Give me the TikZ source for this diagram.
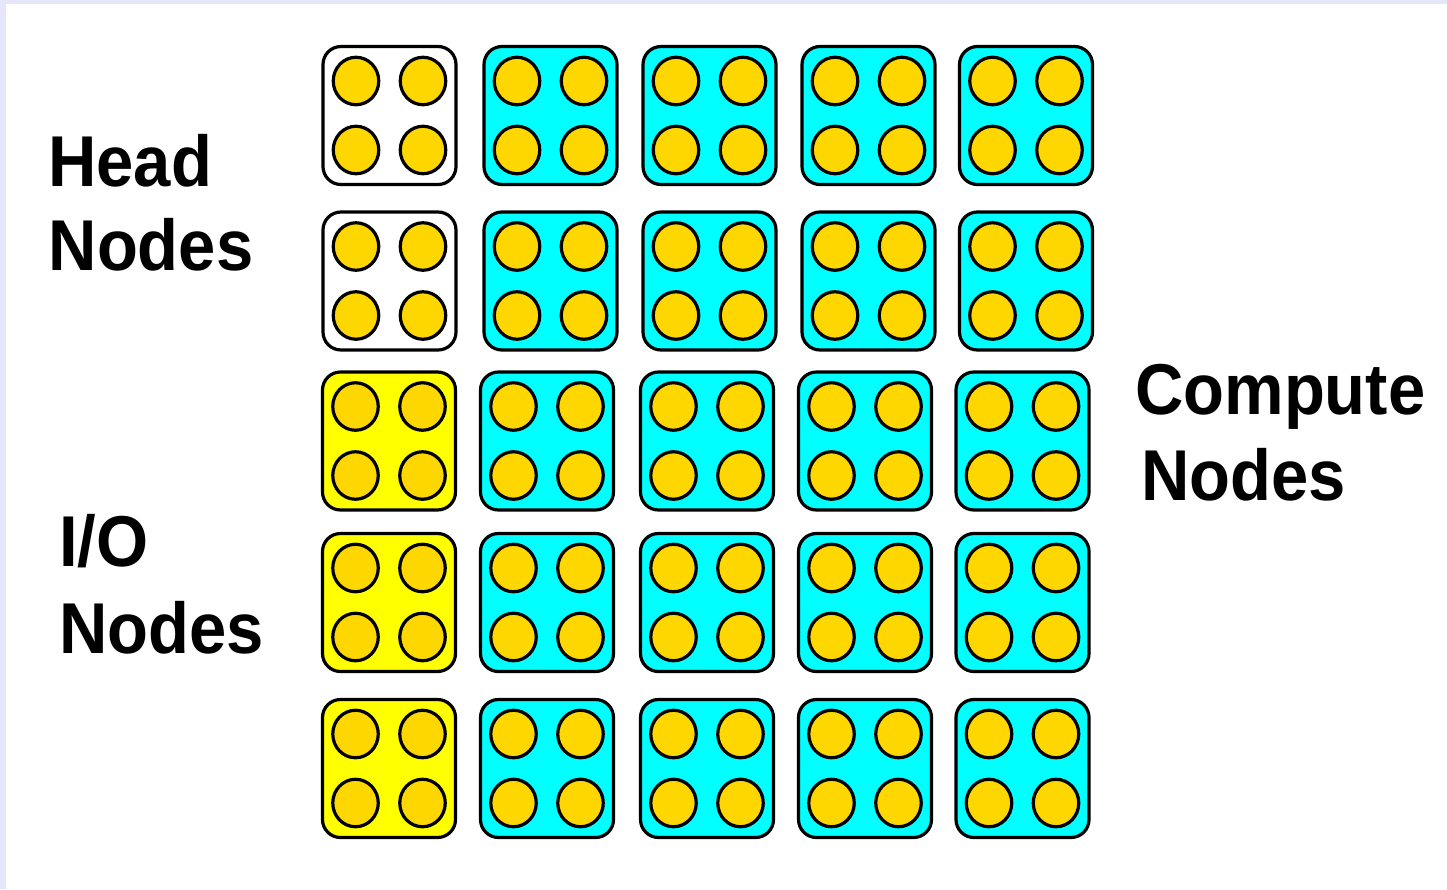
\documentclass[tikz,border=0pt]{standalone}
\usepackage{fontspec}
\newfontfamily\lblfont{Liberation Sans}[FakeStretch=0.93]
\usetikzlibrary{shapes.geometric,calc}
\definecolor{lav}{HTML}{E6E6FA}
\definecolor{cyanbox}{HTML}{00FFFF}
\definecolor{iobox}{HTML}{FFFF00}
\definecolor{core}{HTML}{FFD700}
\begin{document}
\begin{tikzpicture}[x=1pt,y=-1pt,
  unitbox/.style={draw=black, line width=3.2pt, rounded corners=18pt,
    minimum width=133pt, minimum height=138pt, inner sep=0pt, outer sep=0pt},
  cpu/.style={ellipse, draw=black, fill=core, line width=3.2pt,
    minimum width=45.5pt, minimum height=47.5pt, inner sep=0pt},
  lbl/.style={anchor=base west, inner sep=0pt,
    font=\lblfont\bfseries\fontsize{72}{72}\selectfont}]
\useasboundingbox (0,0) rectangle (1447,889);
\fill[white] (0,0) rectangle (1447,889);
\fill[lav] (0,0) rectangle (1447,4);
\fill[lav] (0,0) rectangle (6,889);

% rows 1-2 (head + compute)
\foreach \r/\yy in {1/115.5,2/281}{
  \foreach \c/\xx in {1/389.5,2/550.5,3/709.5,4/868.5,5/1026}{
    \ifnum\c=1 \def\fc{white}\else\def\fc{cyanbox}\fi
    \node[unitbox, fill=\fc] (b\r\c) at (\xx,\yy) {};
    \node[cpu] (b\r\c-1) at ($(b\r\c.center)+(-33.5,-34.5)$) {};
    \node[cpu] (b\r\c-2) at ($(b\r\c.center)+(33.5,-34.5)$) {};
    \node[cpu] (b\r\c-3) at ($(b\r\c.center)+(-33.5,34.5)$) {};
    \node[cpu] (b\r\c-4) at ($(b\r\c.center)+(33.5,34.5)$) {};
  }
}
% rows 3-5 (I/O + compute)
\foreach \r/\yy in {3/441,4/602.5,5/768.5}{
  \foreach \c/\xx in {1/389,2/547,3/707,4/865,5/1022.5}{
    \ifnum\c=1 \def\fc{iobox}\else\def\fc{cyanbox}\fi
    \node[unitbox, fill=\fc] (b\r\c) at (\xx,\yy) {};
    \node[cpu] (b\r\c-1) at ($(b\r\c.center)+(-33.5,-34.5)$) {};
    \node[cpu] (b\r\c-2) at ($(b\r\c.center)+(33.5,-34.5)$) {};
    \node[cpu] (b\r\c-3) at ($(b\r\c.center)+(-33.5,34.5)$) {};
    \node[cpu] (b\r\c-4) at ($(b\r\c.center)+(33.5,34.5)$) {};
  }
}

\node[lbl] (headA) at (48,186) {Head};
\node[lbl] (headB) at (48.5,270) {Nodes};
\node[lbl] (ioA) at (59,566) {I/O};
\node[lbl] (ioB) at (59,653) {Nodes};
\node[lbl] (compA) at (1135,414) {Compute};
\node[lbl] (compB) at (1141,500) {Nodes};
\end{tikzpicture}
\end{document}
